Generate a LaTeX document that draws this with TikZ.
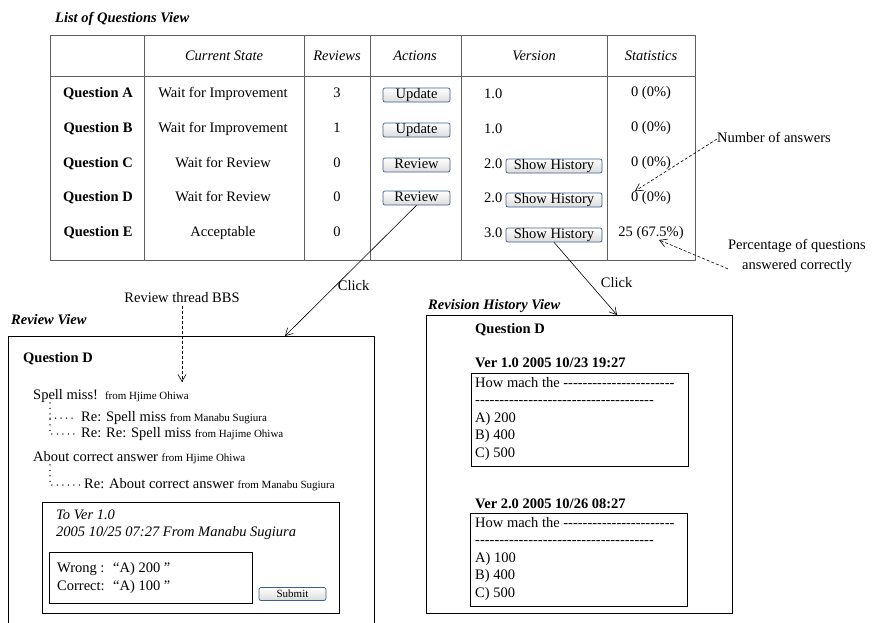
\documentclass[tikz,border=0pt]{standalone}
\usepackage{fontspec}
\setmainfont{Liberation Serif}
\usepackage{tikz}
\usetikzlibrary{arrows.meta}

\definecolor{gridline}{RGB}{95,95,95}
\definecolor{btnedge}{RGB}{60,95,140}
\newcommand{\mainsize}{\fontsize{14.5}{17.5}\selectfont}
\newcommand{\fromsize}{\fontsize{11}{13}\selectfont}
\newcommand{\dashrow}[1]{\foreach \n in {1,...,#1}{-\kern0pt}}

\begin{document}
\begin{tikzpicture}[x=1pt,y=-1pt,>={Straight Barb[length=7pt,width=8pt]},
  txt/.style={inner sep=0pt,font=\mainsize,text height=10pt,text depth=3.5pt},
  head/.style={txt,font=\mainsize\itshape},
  qname/.style={txt,font=\mainsize\bfseries},
  viewtitle/.style={txt,anchor=west,font=\mainsize\bfseries\itshape},
  btn/.style={txt,draw=btnedge,line width=0.7pt,rounded corners=2pt,
    top color=white,bottom color=black!14,minimum width=67pt,
    minimum height=14pt,text height=9.5pt,text depth=2.5pt},
  panel/.style={draw,line width=0.8pt,inner sep=0pt},
  click/.style={->,line width=0.6pt},
  hint/.style={->,line width=0.6pt,dash pattern=on 3pt off 2pt},
  tree/.style={line width=1.5pt,line cap=round,dash pattern=on 0pt off 5.5pt},
  grid/.style={draw=gridline,line width=0.9pt}]
  \useasboundingbox (0,0) rectangle (874,622);

  % list of questions
  \node[viewtitle] (listtitle) at (55,19) {List of Questions View};
  \draw[grid] (50,35) rectangle (695,260);
  \draw[grid] (50,76) -- (695,76)
    (144,35) -- (144,260) (304,35) -- (304,260) (370,35) -- (370,260)
    (461,35) -- (461,260) (607,35) -- (607,260);

  \node[head] (hstate) at (224,57) {Current State};
  \node[head] (hrev) at (337,57) {Reviews};
  \node[head] (hact) at (415,57) {Actions};
  \node[head] (hver) at (534,57) {Version};
  \node[head] (hstat) at (651,57) {Statistics};

  \node[qname] (qA) at (98,94) {Question A};
  \node[qname] (qB) at (98,129) {Question B};
  \node[qname] (qC) at (98,164) {Question C};
  \node[qname] (qD) at (98,198) {Question D};
  \node[qname] (qE) at (98,233) {Question E};

  \node[txt] (stateA) at (223,94) {Wait for Improvement};
  \node[txt] (stateB) at (223,129) {Wait for Improvement};
  \node[txt] (stateC) at (223,164) {Wait for Review};
  \node[txt] (stateD) at (223,198) {Wait for Review};
  \node[txt] (stateE) at (223,233) {Acceptable};

  \node[txt] (revA) at (337,94) {3};
  \node[txt] (revB) at (337,129) {1};
  \node[txt] (revC) at (337,164) {0};
  \node[txt] (revD) at (337,198) {0};
  \node[txt] (revE) at (337,233) {0};

  \node[btn] (actA) at (416.5,95) {Update};
  \node[btn] (actB) at (416.5,130) {Update};
  \node[btn] (actC) at (416.5,165) {Review};
  \node[btn] (actD) at (416.5,198) {Review};

  \node[txt,anchor=west] (verA) at (484,95) {1.0};
  \node[txt,anchor=west] (verB) at (484,130) {1.0};
  \node[txt,anchor=west] (verC) at (484,165) {2.0};
  \node[txt,anchor=west] (verD) at (484,199) {2.0};
  \node[txt,anchor=west] (verE) at (484,234) {3.0};
  \node[btn,minimum width=96pt] (histC) at (554,166) {Show History};
  \node[btn,minimum width=96pt] (histD) at (554,200) {Show History};
  \node[btn,minimum width=96pt] (histE) at (554,235) {Show History};

  \node[txt] (statA) at (651,93) {0 (0\%)};
  \node[txt] (statB) at (651,128) {0 (0\%)};
  \node[txt] (statC) at (651,163) {0 (0\%)};
  \node[txt] (statD) at (651,198) {0 (0\%)};
  \node[txt] (statE) at (651,233) {25 (67.5\%)};

  \node[txt,anchor=west] (nans) at (717,139) {Number of answers};
  \node[inner sep=0pt,font=\mainsize,align=center] (pct) at (797,256)
    {Percentage of questions\\[2.5pt]answered correctly};
  \draw[hint] (nans.west) -- ([xshift=-16pt]statD.north);
  \draw[hint] ([yshift=4pt]pct.south west) -- ([xshift=8pt]statE.south);

  % review view
  \node[txt] (bbs) at (182,299) {Review thread BBS};
  \node[viewtitle] (revtitle) at (11,321) {Review View};
  \draw[line width=0.8pt] (8,623) |- (374,336) -- (374,623);
  \coordinate (revhit) at (285,336);
  \coordinate (bbshit) at (182,382);
  \draw[click] (actD.south) -- node[pos=0.63,right=4pt,txt] {Click} (revhit);
  \draw[hint] (bbs.south) -- (bbshit);

  \node[qname,anchor=west] (revq) at (23,359) {Question D};
  \node[txt,anchor=west] (spell) at (33,396)
    {Spell miss!\hspace{7pt}{\fromsize from Hjime Ohiwa}};
  \node[txt,anchor=west] (re1) at (81,418)
    {Re: Spell miss {\fromsize from Manabu Sugiura}};
  \node[txt,anchor=west] (re2) at (81,434)
    {Re: Re: Spell miss {\fromsize from Hajime Ohiwa}};
  \node[txt,anchor=west] (about) at (33,458)
    {About correct answer {\fromsize from Hjime Ohiwa}};
  \node[txt,anchor=west] (re3) at (84,485)
    {Re: About correct answer {\fromsize from Manabu Sugiura}};
  \draw[tree] ([xshift=17pt]spell.south west) |- ([xshift=-4pt]re2.west);
  \draw[tree] ([xshift=17pt]spell.south west |- re1.west) -- ([xshift=-4pt]re1.west);
  \draw[tree] ([xshift=17pt]about.south west) |- ([xshift=-4pt]re3.west);

  \node[panel,minimum width=297pt,minimum height=111pt] (comment) at (190.5,557.5) {};
  \node[txt,anchor=west,font=\mainsize\itshape] (tover) at (56,516) {To Ver 1.0};
  \node[txt,anchor=west,font=\mainsize\itshape] (stamp) at (56,533)
    {2005 10/25 07:27 From Manabu Sugiura};
  \node[panel,minimum width=203pt,minimum height=51pt] (answers) at (150.5,577.5) {};
  \node[txt,anchor=west] (wrong) at (57,569) {Wrong :};
  \node[txt,anchor=west] (wrongval) at (113,569) {“A) 200 ”};
  \node[txt,anchor=west] (correct) at (57,587) {Correct:};
  \node[txt,anchor=west] (correctval) at (113,587) {“A) 100 ”};
  \node[btn,font=\fromsize,minimum height=13pt,text height=8pt,text depth=2pt]
    (submit) at (292.5,594) {Submit};

  % revision history view
  \node[viewtitle] (histtitle) at (428,306) {Revision History View};
  \node[panel,minimum width=306pt,minimum height=298pt] (histbox) at (579,464) {};
  \coordinate (histhit) at (617,315);
  \draw[click] (histE.south) -- node[pos=0.58,right=10pt,txt] {Click} (histhit);

  \node[qname,anchor=west] (histq) at (475,330) {Question D};
  \node[qname,anchor=west] (ver1) at (475,364) {Ver 1.0 2005 10/23 19:27};
  \node[panel,minimum width=217pt,minimum height=93pt] (v1box) at (579.5,419.5) {};
  \node[inner sep=0pt,font=\mainsize,align=left,anchor=north west] (v1text) at (475,377)
    {How mach the \dashrow{23}\\ \dashrow{37}\\ A) 200\\ B) 400\\ C) 500};
  \node[qname,anchor=west] (ver2) at (475,505) {Ver 2.0 2005 10/26 08:27};
  \node[panel,minimum width=217pt,minimum height=93pt] (v2box) at (578.5,559.5) {};
  \node[inner sep=0pt,font=\mainsize,align=left,anchor=north west] (v2text) at (475,517)
    {How mach the \dashrow{23}\\ \dashrow{37}\\ A) 100\\ B) 400\\ C) 500};
\end{tikzpicture}
\end{document}
